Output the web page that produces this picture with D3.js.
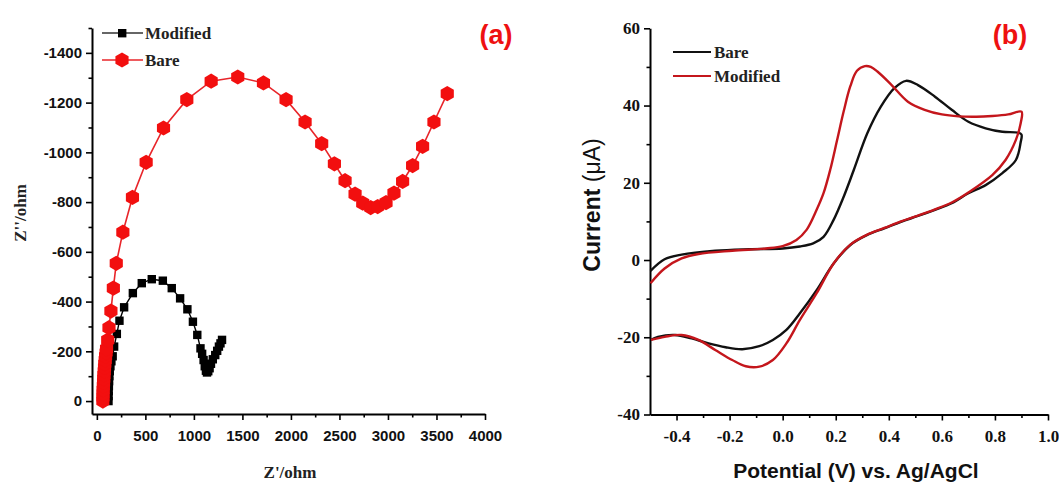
<!DOCTYPE html>
<html><head><meta charset="utf-8">
<script src="https://cdn.jsdelivr.net/npm/d3@7"></script>
<style>body{margin:0;background:#fff;} svg{display:block;}</style>
</head><body>
<svg id="c" width="1059" height="484"></svg>
<script>
// ---------- Panel (a): Nyquist plot (values as -Z'' in ohm) ----------
const modifiedZre = [120,121,122,124,126,129,133,140,150,163,178,206,233,281,371,463,566,680,772,858,933,990,1035,1068,1085,1100,1112,1124,1135,1148,1162,1176,1195,1220,1240,1258,1274,1290];
const modifiedZim = [0,20,40,60,80,100,120,140,160,180,219,270,323,377,434,474,490,484,454,413,369,319,266,212,190,165,140,122,115,120,132,150,168,185,202,219,232,246];
const bareZre = [62,63,64,65,67,69,71,73,76,79,82,86,90,95,100,112,125,145,170,200,268,367,508,687,927,1178,1452,1717,1950,2146,2317,2448,2558,2661,2740,2822,2894,2980,3062,3151,3254,3357,3474,3611];
const bareZim = [0,15,30,45,60,75,90,105,120,135,150,165,180,195,210,245,295,362,454,554,679,819,960,1098,1212,1286,1303,1279,1212,1122,1035,954,886,832,796,778,782,798,836,883,947,1024,1122,1236];
const aXTicks = [0,500,1000,1500,2000,2500,3000,3500,4000];
const aYTicks = [0,200,400,600,800,1000,1200,1400];

// ---------- Panel (b): cyclic voltammograms ----------
const bareE = [-0.498,-0.445,-0.381,-0.254,-0.126,0.0,0.065,0.115,0.154,0.192,0.23,0.268,0.319,0.37,0.421,0.465,0.51,0.574,0.637,0.70,0.765,0.828,0.885,0.900,0.897,0.879,0.828,0.765,0.70,0.637,0.574,0.51,0.446,0.383,0.319,0.255,0.192,0.128,0.065,0.014,-0.037,-0.088,-0.152,-0.215,-0.279,-0.343,-0.406,-0.47,-0.498];
const bareI = [-2.8,0.2,1.4,2.4,2.8,3.0,3.5,4.3,6.0,10.4,16.4,23.3,32.8,39.7,44.5,46.4,45.3,42.3,38.9,35.8,34.1,33.2,33.0,32.5,30.5,25.9,22.5,19.4,17.3,14.7,13.0,11.4,9.9,8.2,6.5,3.9,-0.9,-7.8,-13.8,-18.1,-20.7,-22.3,-23.1,-22.6,-21.6,-20.3,-19.4,-19.9,-20.7];
const modE = [-0.498,-0.445,-0.381,-0.317,-0.19,-0.063,0.0,0.052,0.09,0.128,0.154,0.179,0.205,0.230,0.255,0.280,0.310,0.332,0.357,0.408,0.472,0.535,0.600,0.663,0.730,0.79,0.850,0.900,0.897,0.879,0.84,0.79,0.70,0.637,0.574,0.51,0.446,0.383,0.319,0.255,0.192,0.128,0.065,0.014,-0.037,-0.088,-0.139,-0.19,-0.254,-0.317,-0.381,-0.445,-0.496];
const modI = [-6.0,-2.2,0.4,1.55,2.4,3.0,3.6,5.2,7.8,13.0,17.3,23.3,31.0,38.5,45.0,49.0,50.2,50.0,48.8,45.5,41.0,38.9,37.7,37.2,37.1,37.3,37.7,38.4,35.4,31.1,25.9,22.0,17.5,14.9,13.1,11.5,10.0,8.3,6.6,4.0,-0.9,-8.6,-15.5,-21.6,-25.9,-27.6,-27.5,-25.9,-23.3,-20.7,-19.4,-19.9,-20.7];
const bXTicks = [-0.4,-0.2,0.0,0.2,0.4,0.6,0.8,1.0];
const bYTicks = [-40,-20,0,20,40,60];

const svg = d3.select("#c");
const SANS = "'Liberation Sans', Arial, sans-serif";
const SERIF = "'Liberation Serif', 'Times New Roman', serif";

// ===== Panel (a) =====
const ax = d3.scaleLinear().domain([-50, 4000]).range([92, 485]);
const ay = d3.scaleLinear().domain([-52, 1500]).range([414, 28]);
const ga = svg.append("g");

function styleAxis(g, font, size){
  g.select(".domain").attr("stroke","#000").attr("stroke-width",2);
  g.selectAll(".tick line").attr("stroke","#000").attr("stroke-width",1.6);
  g.selectAll(".tick text").attr("font-family",font).attr("font-size",size).attr("font-weight","bold").attr("fill","#111");
}

// minor ticks
ga.append("g").attr("transform","translate(0,414)")
  .call(d3.axisBottom(ax).tickValues(d3.range(250,4000,500)).tickSize(3.5).tickFormat("").tickSizeOuter(0))
  .call(g=>{g.select(".domain").remove(); g.selectAll("line").attr("stroke","#000").attr("stroke-width",1.6);});
ga.append("g").attr("transform","translate(92,0)")
  .call(d3.axisLeft(ay).tickValues(d3.range(100,1600,200)).tickSize(3.5).tickFormat("").tickSizeOuter(0))
  .call(g=>{g.select(".domain").remove(); g.selectAll("line").attr("stroke","#000").attr("stroke-width",1.6);});

const gax = ga.append("g").attr("transform","translate(0,414)")
  .call(d3.axisBottom(ax).tickValues(aXTicks).tickSize(6).tickPadding(10).tickSizeOuter(0).tickFormat(d3.format("d")));
styleAxis(gax, SANS, 15);
const gay = ga.append("g").attr("transform","translate(92,0)")
  .call(d3.axisLeft(ay).tickValues(aYTicks).tickSize(6).tickPadding(4).tickSizeOuter(0).tickFormat(d=> d===0?"0":"-"+d));
styleAxis(gay, SANS, 15);

const lineA = d3.line().x(d=>ax(d[0])).y(d=>ay(d[1]));
const modA = modifiedZre.map((v,i)=>[v, modifiedZim[i]]);
const bareA = bareZre.map((v,i)=>[v, bareZim[i]]);

ga.append("path").datum(modA).attr("d",lineA).attr("fill","none").attr("stroke","#000").attr("stroke-width",1.4);
ga.selectAll(".sq").data(modA).join("rect")
  .attr("x",d=>ax(d[0])-4.2).attr("y",d=>ay(d[1])-4.2).attr("width",8.4).attr("height",8.4).attr("fill","#000");

const hex = d3.symbol().type({draw(ctx,size){const r=Math.sqrt(size/2.598);for(let k=0;k<6;k++){const a=Math.PI/2+k*Math.PI/3;const px=r*Math.cos(a),py=r*Math.sin(a);if(k===0)ctx.moveTo(px,py);else ctx.lineTo(px,py);}ctx.closePath();}}).size(2.598*7.6*7.6);
ga.append("path").datum(bareA).attr("d",lineA).attr("fill","none").attr("stroke","#e8252a").attr("stroke-width",1.6);
ga.selectAll(".hx").data(bareA).join("path")
  .attr("transform",d=>`translate(${ax(d[0])},${ay(d[1])})`).attr("d",hex).attr("fill","#f20f0f");

// legend a
ga.append("line").attr("x1",102).attr("x2",143).attr("y1",33).attr("y2",33).attr("stroke","#333").attr("stroke-width",1.6);
ga.append("rect").attr("x",118).attr("y",29).attr("width",8.4).attr("height",8.4).attr("fill","#000");
ga.append("text").attr("x",145).attr("y",39).text("Modified").attr("font-family",SERIF).attr("font-weight","bold").attr("font-size",17).attr("fill","#222");
ga.append("line").attr("x1",102).attr("x2",143).attr("y1",60).attr("y2",60).attr("stroke","#e8252a").attr("stroke-width",1.6);
ga.append("path").attr("transform","translate(122,60)").attr("d",hex).attr("fill","#f20f0f");
ga.append("text").attr("x",145).attr("y",66).text("Bare").attr("font-family",SERIF).attr("font-weight","bold").attr("font-size",17).attr("fill","#222");

ga.append("text").attr("x",290).attr("y",478).attr("text-anchor","middle").text("Z'/ohm")
  .attr("font-family",SERIF).attr("font-weight","bold").attr("font-size",17).attr("fill","#222");
ga.append("text").attr("transform","translate(26,213) rotate(-90)").attr("text-anchor","middle").text("Z''/ohm")
  .attr("font-family",SERIF).attr("font-weight","bold").attr("font-size",17).attr("fill","#222");
ga.append("text").attr("x",496).attr("y",44).attr("text-anchor","middle").text("(a)")
  .attr("font-family",SANS).attr("font-weight","bold").attr("font-size",27).attr("fill","#ee1111");

// ===== Panel (b) =====
const bx = d3.scaleLinear().domain([-0.5, 1.0]).range([650, 1048]);
const by = d3.scaleLinear().domain([-40, 60]).range([414.5, 28.3]);
const gb = svg.append("g");

gb.append("g").attr("transform","translate(0,414.5)")
  .call(d3.axisBottom(bx).tickValues(d3.range(-0.3,1.0,0.2)).tickSize(3.5).tickFormat("").tickSizeOuter(0))
  .call(g=>{g.select(".domain").remove(); g.selectAll("line").attr("stroke","#000").attr("stroke-width",1.6);});
gb.append("g").attr("transform","translate(650,0)")
  .call(d3.axisLeft(by).tickValues(d3.range(-30,60,20)).tickSize(3.5).tickFormat("").tickSizeOuter(0))
  .call(g=>{g.select(".domain").remove(); g.selectAll("line").attr("stroke","#000").attr("stroke-width",1.6);});

const gbx = gb.append("g").attr("transform","translate(0,414.5)")
  .call(d3.axisBottom(bx).tickValues(bXTicks).tickSize(6).tickPadding(9).tickSizeOuter(0).tickFormat(d3.format(".1f")));
styleAxis(gbx, SERIF, 17);
gbx.selectAll(".tick text").text(d=> d3.format(".1f")(d).replace("−","-"));
const gby = gb.append("g").attr("transform","translate(650,0)")
  .call(d3.axisLeft(by).tickValues(bYTicks).tickSize(6).tickPadding(4).tickSizeOuter(0).tickFormat(d=>String(d)));
styleAxis(gby, SERIF, 17);

const lineB = d3.line().x(d=>bx(d[0])).y(d=>by(d[1])).curve(d3.curveCatmullRom.alpha(0.5));
const bareB = bareE.map((v,i)=>[v, bareI[i]]);
const modB = modE.map((v,i)=>[v, modI[i]]);
gb.append("path").datum(bareB).attr("d",lineB).attr("fill","none").attr("stroke","#111").attr("stroke-width",2.4);
gb.append("path").datum(modB).attr("d",lineB).attr("fill","none").attr("stroke","#c4161c").attr("stroke-width",2.4);

gb.append("line").attr("x1",673).attr("x2",711).attr("y1",52).attr("y2",52).attr("stroke","#111").attr("stroke-width",2.2);
gb.append("text").attr("x",714).attr("y",58).text("Bare").attr("font-family",SERIF).attr("font-weight","bold").attr("font-size",17).attr("fill","#222");
gb.append("line").attr("x1",673).attr("x2",711).attr("y1",76).attr("y2",76).attr("stroke","#c4161c").attr("stroke-width",2.2);
gb.append("text").attr("x",714).attr("y",82).text("Modified").attr("font-family",SERIF).attr("font-weight","bold").attr("font-size",17).attr("fill","#222");

gb.append("text").attr("x",856).attr("y",478).attr("text-anchor","middle").text("Potential (V) vs. Ag/AgCl")
  .attr("font-family",SANS).attr("font-weight","bold").attr("font-size",21).attr("fill","#111");
const yt = gb.append("text").attr("transform","translate(600,205) rotate(-90)").attr("text-anchor","middle")
  .attr("font-family",SANS).attr("font-size",23).attr("fill","#111");
yt.append("tspan").attr("font-weight","bold").text("Current ");
yt.append("tspan").attr("font-weight","normal").text("(μA)");
gb.append("text").attr("x",1010).attr("y",44).attr("text-anchor","middle").text("(b)")
  .attr("font-family",SANS).attr("font-weight","bold").attr("font-size",27).attr("fill","#ee1111");
</script>
</body></html>
